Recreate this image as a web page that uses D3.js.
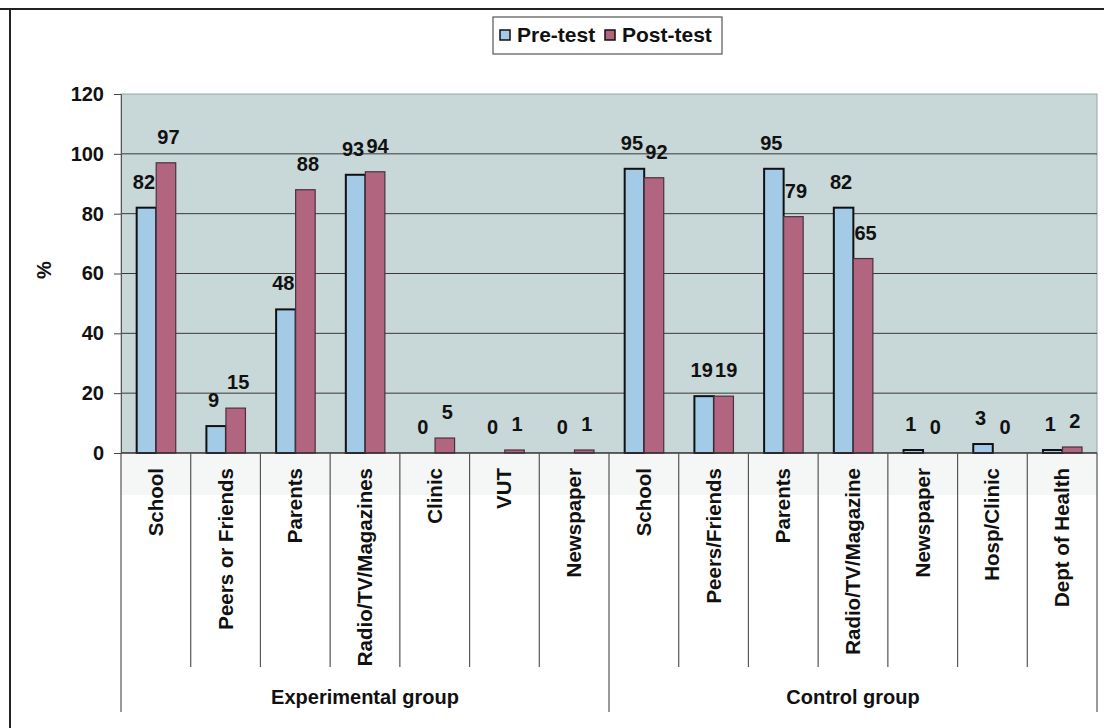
<!DOCTYPE html>
<html>
<head>
<meta charset="utf-8">
<script src="https://cdn.jsdelivr.net/npm/d3@7"></script>
<style>
  html, body { margin: 0; padding: 0; background: #ffffff; }
  svg { display: block; font-family: "Liberation Sans", Arial, sans-serif; font-weight: bold; }
</style>
</head>
<body>
<svg id="chart" width="1104" height="728"></svg>
<script>
// ---- data ----
const categories = ["School", "Peers or Friends", "Parents", "Radio/TV/Magazines", "Clinic", "VUT", "Newspaper",
                    "School", "Peers/Friends", "Parents", "Radio/TV/Magazine", "Newspaper", "Hosp/Clinic", "Dept of Health"];
const groups = ["Experimental group", "Control group"];
const groupSizes = [7, 7];
const seriesNames = ["Pre-test", "Post-test"];
const preTest  = [82, 9, 48, 93, 0, 0, 0, 95, 19, 95, 82, 1, 3, 1];
const postTest = [97, 15, 88, 94, 5, 1, 1, 92, 19, 79, 65, 0, 0, 2];
const yTicks = [0, 20, 40, 60, 80, 100, 120];

// ---- layout ----
const svg = d3.select("#chart");
const plot = { left: 121, right: 1097, top: 94, bottom: 453 };
const colors = { "Pre-test": "#a3cbe8", "Post-test": "#b2657f" };
const strokes = { "Pre-test": "#111111", "Post-test": "#4a3040" };

const x = d3.scaleBand().domain(d3.range(categories.length)).range([plot.left, plot.right]).padding(0);
const bw = x.bandwidth();
const xSub = d3.scaleBand().domain(seriesNames).range([bw * 0.225, bw * 0.785]).padding(0);
const y = d3.scaleLinear().domain([0, 120]).range([plot.bottom, plot.top]);

// outer frame lines
svg.append("line").attr("x1", 0).attr("x2", 1104).attr("y1", 9).attr("y2", 9)
  .attr("stroke", "#222").attr("stroke-width", 2);
svg.append("line").attr("x1", 10).attr("x2", 10).attr("y1", 9).attr("y2", 728)
  .attr("stroke", "#222").attr("stroke-width", 2);

// plot background
svg.append("rect").attr("x", plot.left).attr("y", plot.top)
  .attr("width", plot.right - plot.left).attr("height", plot.bottom - plot.top)
  .attr("fill", "#c8d7d8").attr("stroke", "#9aa5a6").attr("stroke-width", 1);

// faint band under the axis (scan shading)
svg.append("rect").attr("x", plot.left).attr("y", plot.bottom)
  .attr("width", plot.right - plot.left).attr("height", 42)
  .attr("fill", "#f5f6f6");

// gridlines
svg.append("g").selectAll("line").data(yTicks.filter(t => t > 0 && t < 120)).join("line")
  .attr("x1", plot.left).attr("x2", plot.right)
  .attr("y1", d => y(d)).attr("y2", d => y(d))
  .attr("stroke", "#3a3a3a").attr("stroke-width", 1);

// y axis
const yAxis = d3.axisLeft(y).tickValues(yTicks).tickSize(7).tickPadding(10);
const gy = svg.append("g").attr("transform", `translate(${plot.left},0)`).call(yAxis);
gy.select(".domain").attr("stroke", "#555");
gy.selectAll(".tick line").attr("stroke", "#444");
gy.selectAll(".tick text").attr("font-size", 20).attr("font-weight", "bold")
  .attr("font-family", "Liberation Sans, Arial, sans-serif").attr("fill", "#111");

// y title
svg.append("text").attr("transform", "translate(51,270) rotate(-90)")
  .attr("text-anchor", "middle").attr("font-size", 20).attr("fill", "#111").text("%");

// bars
const barData = [];
categories.forEach((c, i) => {
  barData.push({ i, s: "Pre-test", v: preTest[i] });
  barData.push({ i, s: "Post-test", v: postTest[i] });
});
svg.append("g").selectAll("rect").data(barData.filter(d => d.v > 0)).join("rect")
  .attr("x", d => x(d.i) + xSub(d.s))
  .attr("y", d => y(d.v))
  .attr("width", xSub.bandwidth())
  .attr("height", d => y(0) - y(d.v))
  .attr("fill", d => colors[d.s])
  .attr("stroke", d => strokes[d.s])
  .attr("stroke-width", d => d.s === "Pre-test" ? 2 : 1.2);

// x axis line
svg.append("line").attr("x1", plot.left).attr("x2", plot.right)
  .attr("y1", plot.bottom).attr("y2", plot.bottom).attr("stroke", "#333").attr("stroke-width", 1.5);

// data labels (nudged apart slightly so neighbours touch but do not overlap)
svg.append("g").selectAll("text").data(barData).join("text")
  .attr("x", d => x(d.i) + xSub(d.s) + xSub.bandwidth() / 2 + (d.s === "Pre-test" ? -2.5 : 2.5))
  .attr("y", d => y(d.v) - 19)
  .attr("text-anchor", "middle").attr("font-size", 20).attr("fill", "#111")
  .text(d => d.v);

// category table dividers
const innerBottom = 667, groupBottom = 712;
const bounds = d3.range(categories.length + 1);
let cum = [0];
groupSizes.forEach(s => cum.push(cum[cum.length - 1] + s));
svg.append("g").selectAll("line").data(bounds).join("line")
  .attr("x1", k => k < categories.length ? x(k) : plot.right)
  .attr("x2", k => k < categories.length ? x(k) : plot.right)
  .attr("y1", plot.bottom)
  .attr("y2", k => cum.includes(k) ? groupBottom : innerBottom)
  .attr("stroke", "#555").attr("stroke-width", 1.2);

// category labels (rotated)
svg.append("g").selectAll("text").data(categories).join("text")
  .attr("transform", (c, i) => `translate(${x(i) + bw / 2 + 7},468) rotate(-90)`)
  .attr("text-anchor", "end").attr("font-size", 20.5).attr("fill", "#111")
  .text(c => c);

// group labels
svg.append("g").selectAll("text").data(groups).join("text")
  .attr("x", (g, gi) => (x(cum[gi]) + (cum[gi + 1] < categories.length ? x(cum[gi + 1]) : plot.right)) / 2)
  .attr("y", 704)
  .attr("text-anchor", "middle").attr("font-size", 20).attr("fill", "#111")
  .text(g => g);

// legend
const lg = svg.append("g");
lg.append("rect").attr("x", 493).attr("y", 17).attr("width", 229).attr("height", 37)
  .attr("fill", "#fff").attr("stroke", "#555").attr("stroke-width", 1.2);
const legendItems = [{ s: "Pre-test", x: 500 }, { s: "Post-test", x: 605 }];
legendItems.forEach(it => {
  lg.append("rect").attr("x", it.x).attr("y", 30).attr("width", 10).attr("height", 10)
    .attr("fill", colors[it.s]).attr("stroke", "#111").attr("stroke-width", 1.5);
  lg.append("text").attr("x", it.x + 17).attr("y", 42).attr("font-size", 21).attr("fill", "#111")
    .text(it.s);
});
</script>
</body>
</html>
